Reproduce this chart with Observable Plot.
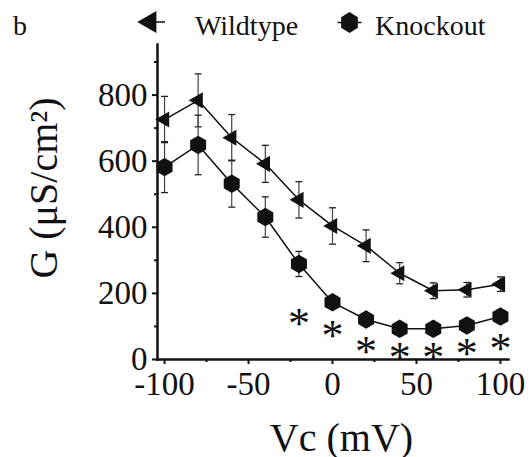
<!DOCTYPE html>
<html>
<head>
<meta charset="utf-8">
<script src="https://cdn.jsdelivr.net/npm/d3@7"></script>
<script src="https://cdn.jsdelivr.net/npm/@observablehq/plot@0.6"></script>
<style>
  html, body { margin: 0; padding: 0; background: #fff; }
  #wrap { position: relative; width: 529px; height: 457px; overflow: hidden; }
  #wrap svg text { font-family: 'Liberation Serif', 'Times New Roman', serif; }
  #legend { position: absolute; left: 0; top: 0; }
</style>
</head>
<body>
<div id="wrap"></div>
<script>
// ---- data ----
const voltages = [-100, -80, -60, -40, -20, 0, 20, 40, 60, 80, 100];
const wildtype = [726, 784, 671, 592, 483, 404, 344, 261, 208, 211, 228];
const wildtypeErr = [70, 80, 70, 56, 55, 55, 48, 32, 24, 22, 22];
const knockout = [582, 649, 532, 431, 289, 173, 121, 93, 93, 103, 130];
const knockoutErr = [77, 90, 71, 61, 38, 10, 8, 6, 8, 8, 8];
const starVoltages = [-20, 0, 20, 40, 60, 80, 100];
const starLevels = [130, 93, 45, 27, 27, 39, 54];
const yMajorTicks = [0, 200, 400, 600, 800];
const yMinorTicks = [100, 300, 500, 700, 900];
const xMajorTicks = [-100, -50, 0, 50, 100];
const xMinorTicks = [-75, -25, 25, 75];
const seriesNames = ["Wildtype", "Knockout"];

const wt = voltages.map((v, i) => ({v, g: wildtype[i], lo: wildtype[i] - wildtypeErr[i], hi: wildtype[i] + wildtypeErr[i]}));
const ko = voltages.map((v, i) => ({v, g: knockout[i], lo: knockout[i] - knockoutErr[i], hi: knockout[i] + knockoutErr[i]}));
const stars = starVoltages.map((v, i) => ({v, g: starLevels[i]}));

const FONT = "'Liberation Serif', 'Times New Roman', serif";
const INK = "#111";

const cap = {
  draw(context, size) {
    const w = Math.sqrt(size / Math.PI);
    context.moveTo(-w, 0);
    context.lineTo(w, 0);
  }
};

const errMarks = (d) => [
  Plot.ruleX(d, {x: "v", y1: "lo", y2: "hi", stroke: "#444", strokeWidth: 1.2}),
  Plot.dot(d, {x: "v", y: "lo", symbol: cap, r: 3.5, fill: "none", stroke: "#222", strokeWidth: 1.3}),
  Plot.dot(d, {x: "v", y: "hi", symbol: cap, r: 3.5, fill: "none", stroke: "#222", strokeWidth: 1.3})
];

const chart = Plot.plot({
  width: 529,
  height: 457,
  marginLeft: 157,
  marginRight: 21,
  marginTop: 44,
  marginBottom: 98,
  style: `font-family: ${FONT}; background: #fff; color: ${INK};`,
  x: {domain: [-104.2, 104.8]},
  y: {domain: [0, 953]},
  marks: [
    ...errMarks(wt),
    ...errMarks(ko),
    Plot.line(wt, {x: "v", y: "g", stroke: INK, strokeWidth: 1.5}),
    Plot.line(ko, {x: "v", y: "g", stroke: INK, strokeWidth: 1.5}),
    Plot.dot(wt, {x: "v", y: "g", symbol: "triangle", rotate: -90, r: 6, fill: INK, stroke: "none"}),
    Plot.dot(ko, {x: "v", y: "g", symbol: "hexagon", r: 8, fill: INK, stroke: "none"}),
    Plot.text(stars, {x: "v", y: "g", text: () => "*", fontSize: 44, fontFamily: FONT, fill: INK, lineAnchor: "middle", dy: 7}),
    Plot.axisY({ticks: yMajorTicks, tickSize: 5, tickPadding: 5, fontSize: 33, fontFamily: FONT, strokeWidth: 2, label: null, tickFormat: d => String(d)}),
    Plot.axisY({ticks: yMinorTicks, tickSize: 3, strokeWidth: 2, text: null, label: null}),
    Plot.axisX({ticks: xMajorTicks, tickSize: 5, tickPadding: 7, fontSize: 33, fontFamily: FONT, strokeWidth: 2, label: null, tickFormat: d => String(d)}),
    Plot.axisX({ticks: xMinorTicks, tickSize: 3, strokeWidth: 2, text: null, label: null}),
    Plot.frame({anchor: "left", stroke: INK, strokeWidth: 2.5}),
    Plot.frame({anchor: "bottom", stroke: INK, strokeWidth: 2.5}),
    Plot.text(["G (μS/cm²)"], {frameAnchor: "left", textAnchor: "middle", lineAnchor: "middle", rotate: -90, fontSize: 40, fontFamily: FONT, dx: -113, dy: -14, fill: INK}),
    Plot.text(["Vc (mV)"], {frameAnchor: "bottom", textAnchor: "middle", lineAnchor: "middle", fontSize: 40, fontFamily: FONT, dx: 8.5, dy: 79, fill: INK})
  ]
});
document.getElementById("wrap").appendChild(chart);

// ---- legend (drawn above the plot area) ----
const leg = d3.select("#wrap").append("svg")
  .attr("id", "legend").attr("width", 529).attr("height", 44)
  .style("font-family", FONT);
leg.append("text").attr("x", 13).attr("y", 35).attr("font-size", 28).attr("fill", INK).text("b");
// wildtype item
const g1 = leg.append("g").attr("transform", "translate(150,22)");
g1.append("line").attr("x1", -6).attr("x2", 15).attr("stroke", INK).attr("stroke-width", 1.5);
g1.append("path").attr("d", d3.symbol(d3.symbolTriangle, Math.PI * 8.2 * 8.2)()).attr("transform", "rotate(-90)").attr("fill", INK);
leg.append("text").attr("x", 195).attr("y", 35).attr("font-size", 28).attr("fill", INK).text(seriesNames[0]);
// knockout item
const g2 = leg.append("g").attr("transform", "translate(349.5,22.5)");
g2.append("line").attr("x1", -12).attr("x2", 12).attr("stroke", INK).attr("stroke-width", 1.5);
const R = 10.5;
const hex = d3.range(6).map(k => {
  const a = Math.PI / 2 + k * Math.PI / 3;
  return [R * Math.cos(a) * 0.92, R * Math.sin(a)];
});
g2.append("path").attr("d", "M" + hex.join("L") + "Z").attr("fill", INK);
leg.append("text").attr("x", 375).attr("y", 35).attr("font-size", 28).attr("fill", INK).text(seriesNames[1]);
</script>
</body>
</html>
